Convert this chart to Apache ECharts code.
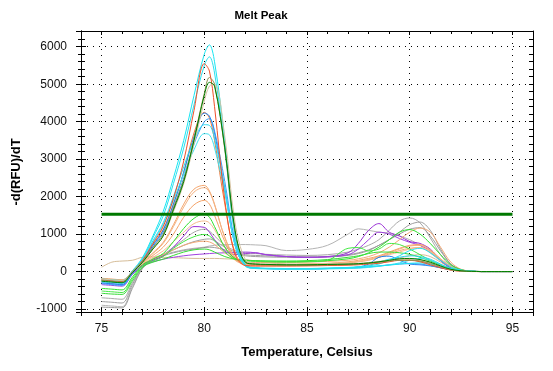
<!DOCTYPE html>
<html>
<head>
<meta charset="utf-8">
<script src="https://cdn.jsdelivr.net/npm/echarts@6/dist/echarts.min.js"></script>
<style>html,body{margin:0;padding:0;background:#fff;}#c{width:553px;height:371px;}</style>
</head>
<body>
<div id="c"></div>
<script>
// Temperature sample points (Celsius)
var temps = [75,75.5,76,76.5,77,77.5,78,78.5,79,79.5,80,80.25,80.5,81,81.5,82,82.5,83,84,85,86,87,87.5,88,88.5,89,89.5,90,90.5,91,91.5,92,92.5,93,93.5,94,95];

// -d(RFU)/dT series values
var grayA  = [-700,-720,-740,-300,100,300,450,650,850,1050,1130,1080,950,700,560,500,480,460,440,430,450,520,600,700,850,1100,1350,1430,1300,900,450,150,40,10,0,0,0];
var grayB  = [-800,-820,-840,-350,120,330,450,580,700,800,860,870,820,650,520,450,430,420,400,390,400,450,500,580,700,850,1050,1250,1320,1100,600,200,50,10,0,0,0];
var grayC  = [-900,-920,-940,-400,100,350,450,520,580,620,650,680,700,720,720,720,710,690,560,590,700,1000,1140,1100,1050,1020,950,850,700,500,280,100,30,5,0,0,0];
var grayD  = [-950,-960,-970,-450,90,300,420,500,560,600,640,650,640,580,480,420,400,390,380,380,390,430,480,560,700,850,1000,1130,1170,950,550,200,50,10,0,0,0];
var tanFlat = [115,250,280,300,380,390,380,370,360,350,350,350,350,340,330,320,280,240,200,180,180,190,200,220,250,300,360,420,450,400,250,100,30,5,0,0,0];
var purpleA = [-300,-320,-340,-60,180,300,420,650,950,1200,1180,1050,850,550,450,480,500,450,400,380,400,500,750,1100,1280,1050,950,800,750,600,300,100,30,5,0,0,0];
var purpleB = [-350,-370,-390,-80,150,260,330,380,420,450,470,480,490,500,510,520,500,450,400,380,390,450,600,850,1050,1000,880,780,700,550,300,100,30,5,0,0,0];
var peachA = [-180,-200,-220,0,250,500,780,1250,1800,2200,2300,2150,1800,900,350,200,190,180,180,190,200,230,260,300,380,470,560,620,640,520,320,130,40,10,0,0,0];
var peachB = [-200,-220,-240,-10,240,480,750,1200,1720,2120,2240,2120,1780,920,380,210,200,190,190,200,210,240,270,320,400,500,600,680,700,560,330,130,40,10,0,0,0];
var peachC = [-190,-210,-230,0,230,430,650,1000,1450,1780,1900,1800,1500,800,320,200,190,190,190,200,220,260,300,350,420,520,620,700,720,580,340,140,40,10,0,0,0];
var peachD = [-210,-230,-250,-10,210,380,550,800,1050,1280,1350,1300,1120,650,300,200,190,190,190,200,210,240,270,310,380,450,520,600,640,540,330,130,40,10,0,0,0];
var peachE = [-220,-240,-260,-20,200,330,450,580,700,780,810,790,720,500,320,250,240,240,240,250,270,300,340,400,500,650,850,1050,1160,1050,650,250,60,10,0,0,0];
var greenA = [-450,-470,-490,-150,180,330,480,800,1150,1420,1540,1450,1200,650,350,300,290,280,270,270,290,340,400,500,650,850,1050,1120,1000,750,450,180,50,10,0,0,0];
var greenB = [-520,-540,-560,-200,150,280,400,620,800,930,990,950,820,520,330,280,270,260,250,260,300,620,640,550,600,750,720,600,450,300,180,80,30,5,0,0,0];
var greenC = [-580,-600,-610,-250,120,250,330,430,520,580,600,580,520,400,330,300,290,280,280,290,320,380,420,480,520,520,500,460,380,280,180,80,30,5,0,0,0];
var orangeA = [-220,-250,-270,0,300,750,1200,1950,2950,4300,5550,5350,4400,1900,450,160,150,150,150,150,160,170,180,200,220,260,300,300,260,180,100,40,10,0,0,0,0];
var orangeB = [-250,-270,-290,-20,290,720,1120,1800,2650,3700,4250,4100,3500,1800,500,170,150,150,150,160,170,180,200,230,260,300,330,320,280,200,110,40,10,0,0,0,0];
var blueA  = [-300,-330,-350,-40,280,700,1100,1800,2650,3600,4230,4150,3700,2200,700,150,90,80,70,70,80,100,120,200,380,410,300,200,180,150,100,50,20,5,0,0,0];
var blueB  = [-320,-350,-370,-50,260,660,1050,1700,2500,3400,4000,4080,3750,2400,800,170,100,80,70,70,80,90,100,120,150,180,200,210,200,160,100,50,20,5,0,0,0];
var cyanA  = [-200,-220,-240,20,380,950,1600,2500,3500,4700,5800,6050,5600,3500,1000,180,100,90,80,80,90,100,110,130,150,170,200,220,230,200,140,70,30,10,0,0,0];
var cyanB  = [-230,-250,-270,0,350,900,1480,2350,3300,4450,5500,5730,5300,3300,900,160,90,80,80,80,90,110,130,150,200,300,420,560,620,500,300,120,40,10,0,0,0];
var cyanC  = [-260,-280,-300,-20,320,820,1300,2000,2800,3500,3920,3900,3550,2200,700,150,90,80,70,70,80,100,120,160,250,330,380,420,400,330,200,80,30,10,0,0,0];
var cyanD  = [-280,-300,-320,-30,300,780,1250,1900,2600,3250,3680,3650,3300,2100,700,140,80,70,60,60,70,80,90,110,140,180,230,300,350,300,180,70,20,5,0,0,0];
var tanThick = [-200,-220,-240,0,260,600,950,1600,2350,3400,4550,4950,5000,3600,1300,320,220,200,190,190,200,210,220,240,270,300,320,330,310,240,140,50,15,5,0,0,0];
var olive  = [-240,-260,-280,-10,270,640,1000,1700,2450,3550,4750,5180,5000,3250,1050,240,190,180,170,170,180,190,200,220,250,280,300,300,280,220,130,50,15,5,0,0,0];
var darkGreen = [-260,-280,-300,-30,250,600,950,1650,2400,3500,4700,5050,4950,3300,1100,250,200,190,180,180,190,200,210,230,260,300,340,350,320,250,150,60,20,5,0,0,0];

// Threshold line
var threshold = 1530;
var thresholdRange = [75, 95];

// Axis tick labels
var xTickLabels = [75, 80, 85, 90, 95];
var yTickLabels = [-1000, 0, 1000, 2000, 3000, 4000, 5000, 6000];

var curves = [
  [grayA, '#a9a9a9'], [grayB, '#a0a0a0'], [grayC, '#b4b4b4'], [grayD, '#9c9c9c'],
  [tanFlat, '#d6bd98'], [purpleA, '#9a2fd6'], [purpleB, '#a040e0'],
  [peachA, '#f5a870'], [peachB, '#f4b282'], [peachC, '#f5a46a'], [peachD, '#f6bc8e'], [peachE, '#f3aa78'],
  [greenA, '#2fe22f'], [greenB, '#44ea44'], [greenC, '#36dc36'],
  [orangeB, '#f07a3c'], [blueA, '#2080ee'], [blueB, '#3a9cf6'],
  [cyanC, '#2ad8ee'], [cyanD, '#3ce2f2'], [cyanA, '#18e6f2'], [cyanB, '#28e0ee'],
  [orangeA, '#f0502a'], [tanThick, '#d6c3a2'], [olive, '#8f9050'], [darkGreen, '#007f00']
];

var series = curves.map(function (c) {
  return {
    type: 'line', smooth: 0.35, showSymbol: false, silent: true,
    lineStyle: { width: 1, color: c[1] },
    data: temps.map(function (t, i) { return [t, c[0][i]]; })
  };
});
series.push({
  type: 'line', showSymbol: false, silent: true,
  lineStyle: { width: 3, color: '#007800' },
  data: thresholdRange.map(function (t) { return [t, threshold]; })
});

var font = 'Liberation Sans, Arial, sans-serif';
var lineBlack = { show: true, onZero: false, lineStyle: { color: '#000', width: 1 } };

function xAx(pos, inside, labels, split) {
  return {
    type: 'value', position: pos, min: 74, max: 96, splitNumber: 5,
    axisLine: lineBlack,
    axisTick: { show: true, inside: inside, length: 4, lineStyle: { color: '#000' } },
    minorTick: { show: true, splitNumber: 5, length: 3, lineStyle: { color: '#000' } },
    minorSplitLine: { show: false },
    splitLine: { show: split, lineStyle: { color: '#000', type: [1, 5] } },
    axisLabel: {
      show: labels, showMinLabel: false, showMaxLabel: false, margin: 11,
      fontFamily: font, fontSize: 12, color: '#111',
      formatter: function (v) { return xTickLabels.indexOf(v) >= 0 ? String(v) : ''; }
    }
  };
}
function yAx(pos, inside, labels, split, len) {
  return {
    type: 'value', position: pos, min: -1080, max: 6420, splitNumber: 7,
    axisLine: lineBlack,
    axisTick: { show: true, inside: inside, length: len, lineStyle: { color: '#000' } },
    minorTick: { show: true, splitNumber: 5, length: inside ? 4 : 3, lineStyle: { color: '#000' } },
    minorSplitLine: { show: false },
    splitLine: { show: split, lineStyle: { color: '#000', type: [1, 5] } },
    axisLabel: {
      show: labels, showMinLabel: false, showMaxLabel: false, margin: 14,
      fontFamily: font, fontSize: 12, color: '#111',
      formatter: function (v) { return yTickLabels.indexOf(v) >= 0 ? String(v) : ''; }
    }
  };
}

var chart = echarts.init(document.getElementById('c'), null, { renderer: 'canvas' });
chart.setOption({
  animation: false,
  backgroundColor: '#fff',
  grid: { left: 81, right: 20, top: 31, bottom: 59, containLabel: false },
  xAxis: [xAx('bottom', false, true, true), xAx('bottom', true, false, false), xAx('top', true, false, false)],
  yAxis: [yAx('left', false, true, true, 5), yAx('left', true, false, false, 5), yAx('right', true, false, false, 4)],
  graphic: [
    { type: 'text', x: 261, y: 16, style: { text: 'Melt Peak', font: 'bold 11.5px ' + font, fill: '#000', align: 'center', verticalAlign: 'middle' } },
    { type: 'text', x: 307, y: 352, style: { text: 'Temperature, Celsius', font: 'bold 13px ' + font, fill: '#000', align: 'center', verticalAlign: 'middle' } },
    { type: 'text', x: 16, y: 172, rotation: Math.PI / 2, style: { text: '-d(RFU)/dT', font: 'bold 13px ' + font, fill: '#000', align: 'center', verticalAlign: 'middle' } }
  ],
  series: series
});
</script>
</body>
</html>
